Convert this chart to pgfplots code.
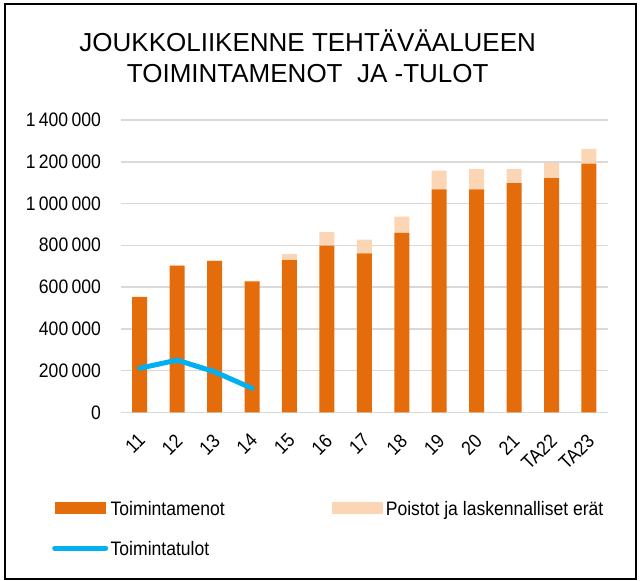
\documentclass[border=0pt]{standalone}
\usepackage{fontspec}
\setmainfont{Liberation Sans}
\newfontfamily\narrowfont{Liberation Sans}[FakeStretch=0.9]
\usepackage{pgfplots}
\pgfplotsset{compat=1.18}

\definecolor{menot}{HTML}{E46C0A}
\definecolor{poistot}{HTML}{FCD5B5}
\definecolor{tulot}{HTML}{00B0F0}
\definecolor{gridgray}{HTML}{D9D9D9}
\newcommand\lblfont{\narrowfont\fontsize{19.5bp}{23bp}\selectfont}
\newcommand\titlefont{\fontsize{26bp}{31bp}\selectfont}

\begin{document}
\begin{tikzpicture}
  % page and frame
  \path (0,0) rectangle (641bp,-581bp);
  \draw[line width=2.5bp] (5bp,-4bp) rectangle (636bp,-579bp);
  % title
  \node[anchor=base, font=\titlefont, inner sep=0pt] at (307.7bp,-51.5bp) {JOUKKOLIIKENNE TEHTÄVÄALUEEN};
  \node[anchor=base, font=\titlefont, inner sep=0pt] at (307.7bp,-82.5bp) {TOIMINTAMENOT\ \ JA -TULOT};

  \begin{axis}[
      at={(121bp,-412.3bp)}, anchor=south west,
      scale only axis,
      width=486.7bp, height=292.3bp,
      ybar stacked,
      bar width=15bp,
      xmin=-0.5, xmax=12.5,
      ymin=0, ymax=1400000,
      xtick={0,...,12},
      xticklabels={11,12,13,14,15,16,17,18,19,20,21,TA22,TA23},
      ytick={0,200000,...,1400000},
      scaled y ticks=false,
      /pgf/number format/fixed,
      /pgf/number format/1000 sep={\,},
      /pgf/number format/assume math mode=true,
      ymajorgrids,
      grid style={gridgray, line width=1.5bp},
      axis line style={draw=none},
      major tick length=0pt,
      tick label style={font=\lblfont},
      yticklabel style={inner sep=0pt, xshift=-20bp},
      xticklabel style={xshift=-3bp, yshift=-20bp, rotate=45, anchor=north east, inner sep=0pt},
      legend columns=2,
      legend cell align=left,
      legend style={
        draw=none, fill=none,
        at={(-0.1418,-0.3035)}, anchor=north west,
        font=\lblfont,
        inner sep=0pt,
        row sep=26bp,
        nodes={inner sep=0pt, text height=14bp, text depth=0pt},
        /tikz/every odd column/.append style={column sep=2.5bp},
        /tikz/every even column/.append style={column sep=107.5bp},
      },
    ]
    \addplot[fill=menot, draw=none,
      legend image code/.code={\fill[menot] (0bp,-6bp) rectangle (51bp,6bp);}]
      coordinates {(0,552000) (1,702000) (2,725000) (3,627000) (4,729000)
                   (5,798000) (6,761000) (7,859000) (8,1068000) (9,1068000)
                   (10,1098000) (11,1122000) (12,1191000)};
    \addlegendentry{Toimintamenot}
    \addplot[fill=poistot, draw=none,
      legend image code/.code={\fill[poistot] (0bp,-6bp) rectangle (51bp,6bp);}]
      coordinates {(0,2000) (1,2000) (2,2000) (3,2000) (4,29000)
                   (5,65000) (6,66000) (7,78000) (8,89000) (9,97000)
                   (10,67000) (11,73000) (12,71000)};
    \addlegendentry{Poistot ja laskennalliset erät}
    \addlegendimage{legend image code/.code={\draw[tulot, line width=5bp, line cap=round] (0bp,0bp) -- (51bp,0bp);}}
    \addlegendentry{Toimintatulot}
  \end{axis}

  \begin{axis}[
      at={(121bp,-412.3bp)}, anchor=south west,
      scale only axis,
      width=486.7bp, height=292.3bp,
      xmin=-0.5, xmax=12.5,
      ymin=0, ymax=1400000,
      hide axis,
    ]
    \addplot[tulot, line width=5bp, line cap=round, line join=round]
      coordinates {(0,211000) (1,250000) (2,194000) (3,115000)};
  \end{axis}
\end{tikzpicture}
\end{document}
